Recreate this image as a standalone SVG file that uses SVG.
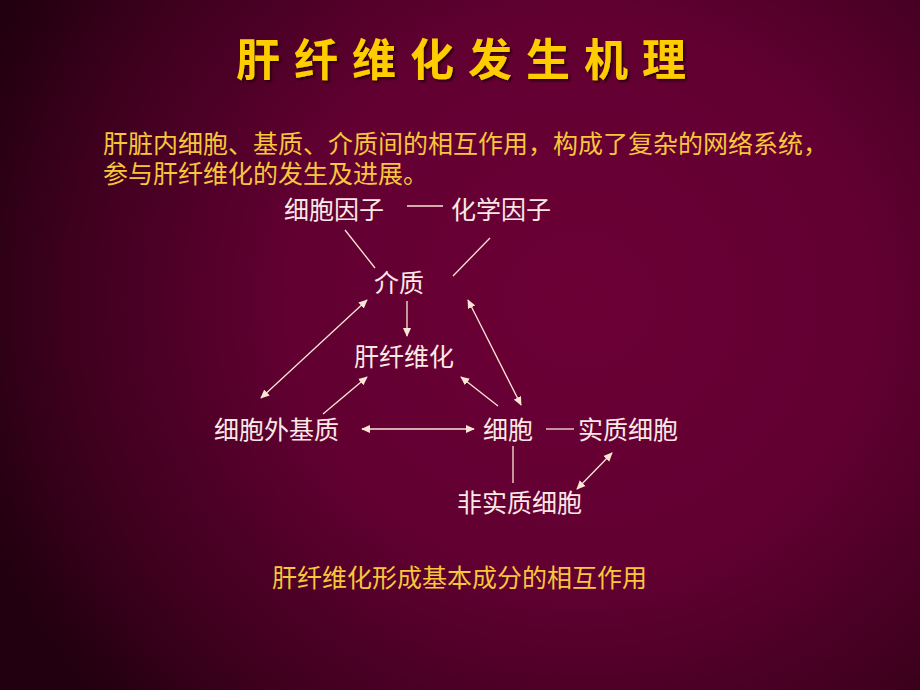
<svg xmlns="http://www.w3.org/2000/svg" width="920" height="690" viewBox="0 0 920 690">
<defs>
<radialGradient id="bg" cx="580" cy="300" r="640" gradientUnits="userSpaceOnUse" gradientTransform="translate(580 300) scale(1 0.95) translate(-580 -300)">
<stop offset="0" stop-color="#6c0036"/>
<stop offset="0.45" stop-color="#620032"/>
<stop offset="0.8" stop-color="#3e001e"/>
<stop offset="1" stop-color="#22000f"/>
</radialGradient>
<filter id="sh" x="-5%" y="-20%" width="110%" height="140%">
<feDropShadow dx="2" dy="2" stdDeviation="0.8" flood-color="#2a0008" flood-opacity="1"/>
</filter>
<marker id="ah" viewBox="0 0 10 10" refX="9" refY="5" markerWidth="9" markerHeight="9" markerUnits="userSpaceOnUse" orient="auto-start-reverse">
<path d="M0,0.5 L10,5 L0,9.5 z" fill="#fbe6d6"/>
</marker>
</defs>
<style>
.t{font-family:"Noto Sans CJK SC","Noto Sans",sans-serif;font-size:25px;fill:#fbe8e4}
.g{font-family:"Noto Sans CJK SC","Noto Sans",sans-serif;font-size:25px;fill:#f8c63a}
.title{font-family:"Noto Sans CJK SC","Noto Sans",sans-serif;font-size:44px;font-weight:bold;letter-spacing:14px;fill:#ffcc00}
.ln{stroke:#fbe6d6;stroke-width:1.3;fill:none}
.ar{stroke:#fbe6d6;stroke-width:1.3;fill:none;marker-end:url(#ah)}
.dar{stroke:#fbe6d6;stroke-width:1.3;fill:none;marker-start:url(#ah);marker-end:url(#ah)}
</style>
<rect width="920" height="690" fill="url(#bg)"/>
<g id="title">
<text class="title" x="236" y="76" filter="url(#sh)">肝纤维化发生机理</text>
</g>
<g id="intro">
<text class="g" x="103" y="153">肝脏内细胞、基质、介质间的相互作用，构成了复杂的网络系统，</text>
<text class="g" x="103" y="183">参与肝纤维化的发生及进展。</text>
</g>
<g id="node-cytokine"><text class="t" x="284" y="219">细胞因子</text></g>
<g id="node-chemokine"><text class="t" x="451" y="219">化学因子</text></g>
<g id="node-mediator"><text class="t" x="374" y="292">介质</text></g>
<g id="node-fibrosis"><text class="t" x="354" y="366">肝纤维化</text></g>
<g id="node-ecm"><text class="t" x="214" y="439">细胞外基质</text></g>
<g id="node-cell"><text class="t" x="483" y="439">细胞</text></g>
<g id="node-parenchymal"><text class="t" x="578" y="439">实质细胞</text></g>
<g id="node-nonparenchymal"><text class="t" x="457" y="512">非实质细胞</text></g>
<g id="connectors">
<line class="ln" x1="407" y1="206" x2="443" y2="206"/>
<line class="ln" x1="345" y1="230" x2="375" y2="268"/>
<line class="ln" x1="490" y1="238" x2="453" y2="276"/>
<line class="ar" x1="407" y1="301" x2="407" y2="336"/>
<line class="dar" x1="261" y1="398" x2="367" y2="300"/>
<line class="ar" x1="323" y1="414" x2="367" y2="377"/>
<line class="ar" x1="498" y1="406" x2="461" y2="377"/>
<line class="dar" x1="468" y1="300" x2="521" y2="405"/>
<line class="dar" x1="362" y1="429" x2="474" y2="429"/>
<line class="ln" x1="546" y1="429" x2="574" y2="429"/>
<line class="ln" x1="513" y1="446" x2="513" y2="483"/>
<line class="dar" x1="577" y1="489" x2="612" y2="453"/>
</g>
<g id="caption"><text class="g" x="272" y="587">肝纤维化形成基本成分的相互作用</text></g>
</svg>
